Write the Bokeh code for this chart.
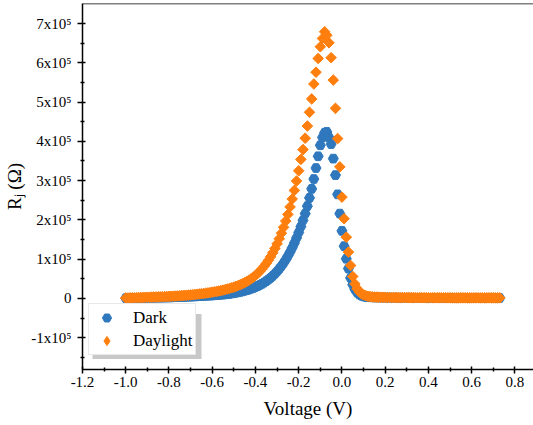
import math
from bokeh.plotting import figure
from bokeh.models import (Range1d, FixedTicker, NumeralTickFormatter, Legend, LegendItem,
                          BoxAnnotation, Span, ColumnDataSource)
from bokeh.embed import file_html
from bokeh.resources import INLINE

# ---------------- data ----------------
voltage = [
    -1.00, -0.99, -0.98, -0.97, -0.96, -0.95, -0.94, -0.93, -0.92, -0.91,
    -0.90, -0.89, -0.88, -0.87, -0.86, -0.85, -0.84, -0.83, -0.82, -0.81,
    -0.80, -0.79, -0.78, -0.77, -0.76, -0.75, -0.74, -0.73, -0.72, -0.71,
    -0.70, -0.69, -0.68, -0.67, -0.66, -0.65, -0.64, -0.63, -0.62, -0.61,
    -0.60, -0.59, -0.58, -0.57, -0.56, -0.55, -0.54, -0.53, -0.52, -0.51,
    -0.50, -0.49, -0.48, -0.47, -0.46, -0.45, -0.44, -0.43, -0.42, -0.41,
    -0.40, -0.39, -0.38, -0.37, -0.36, -0.35, -0.34, -0.33, -0.32, -0.31,
    -0.30, -0.29, -0.28, -0.27, -0.26, -0.25, -0.24, -0.23, -0.22, -0.21,
    -0.20, -0.19, -0.18, -0.17, -0.16, -0.15, -0.14, -0.13, -0.12, -0.11,
    -0.10, -0.09, -0.08, -0.07, -0.06, -0.05, -0.04, -0.03, -0.02, -0.01,
    0.00, 0.01, 0.02, 0.03, 0.04, 0.05, 0.06, 0.07, 0.08, 0.09,
    0.10, 0.11, 0.12, 0.13, 0.14, 0.15, 0.16, 0.17, 0.18, 0.19,
    0.20, 0.21, 0.22, 0.23, 0.24, 0.25, 0.26, 0.27, 0.28, 0.29,
    0.30, 0.31, 0.32, 0.33, 0.34, 0.35, 0.36, 0.37, 0.38, 0.39,
    0.40, 0.41, 0.42, 0.43, 0.44, 0.45, 0.46, 0.47, 0.48, 0.49,
    0.50, 0.51, 0.52, 0.53, 0.54, 0.55, 0.56, 0.57, 0.58, 0.59,
    0.60, 0.61, 0.62, 0.63, 0.64, 0.65, 0.66, 0.67, 0.68, 0.69,
    0.70, 0.71, 0.72, 0.73,
]

# R_j in units of 1e5 Ohm
dark_1e5 = [
    0.006, 0.007, 0.008, 0.009, 0.010, 0.011, 0.012, 0.013, 0.014, 0.015,
    0.016, 0.017, 0.018, 0.019, 0.020, 0.021, 0.022, 0.023, 0.024, 0.025,
    0.026, 0.028, 0.030, 0.032, 0.034, 0.036, 0.038, 0.040, 0.042, 0.044,
    0.046, 0.049, 0.052, 0.055, 0.058, 0.061, 0.064, 0.067, 0.070, 0.073,
    0.076, 0.080, 0.084, 0.088, 0.093, 0.098, 0.104, 0.110, 0.117, 0.125,
    0.135, 0.145, 0.156, 0.168, 0.181, 0.195, 0.210, 0.227, 0.246, 0.267,
    0.290, 0.315, 0.342, 0.372, 0.405, 0.441, 0.481, 0.525, 0.574, 0.628,
    0.687, 0.752, 0.823, 0.900, 0.985, 1.080, 1.180, 1.290, 1.410, 1.540,
    1.680, 1.830, 1.990, 2.160, 2.350, 2.560, 2.790, 3.040, 3.320, 3.620,
    3.900, 4.100, 4.220, 4.240, 4.100, 3.930, 3.560, 3.140, 2.650, 2.160,
    1.720, 1.330, 1.010, 0.760, 0.520, 0.350, 0.230, 0.150, 0.100, 0.070,
    0.050, 0.040, 0.035, 0.030, 0.028, 0.026, 0.025, 0.024, 0.023, 0.022,
    0.021, 0.021, 0.020, 0.020, 0.019, 0.019, 0.018, 0.018, 0.018, 0.017,
    0.017, 0.017, 0.016, 0.016, 0.016, 0.016, 0.015, 0.015, 0.015, 0.015,
    0.015, 0.014, 0.014, 0.014, 0.014, 0.014, 0.014, 0.013, 0.013, 0.013,
    0.013, 0.013, 0.013, 0.013, 0.012, 0.012, 0.012, 0.012, 0.012, 0.012,
    0.012, 0.012, 0.012, 0.011, 0.011, 0.011, 0.011, 0.011, 0.011, 0.011,
    0.011, 0.011, 0.011, 0.011,
]

daylight_1e5 = [
    0.010, 0.011, 0.013, 0.015, 0.017, 0.019, 0.021, 0.023, 0.025, 0.027,
    0.029, 0.031, 0.033, 0.035, 0.037, 0.039, 0.041, 0.043, 0.046, 0.048,
    0.051, 0.054, 0.057, 0.060, 0.063, 0.067, 0.071, 0.075, 0.079, 0.084,
    0.089, 0.094, 0.100, 0.106, 0.112, 0.119, 0.126, 0.133, 0.141, 0.149,
    0.158, 0.168, 0.178, 0.189, 0.200, 0.212, 0.225, 0.239, 0.254, 0.270,
    0.287, 0.306, 0.327, 0.350, 0.375, 0.402, 0.432, 0.465, 0.500, 0.540,
    0.585, 0.635, 0.690, 0.750, 0.820, 0.890, 0.970, 1.060, 1.160, 1.270,
    1.390, 1.520, 1.660, 1.810, 1.970, 2.140, 2.330, 2.530, 2.750, 2.990,
    3.250, 3.540, 3.790, 4.080, 4.390, 4.740, 5.080, 5.460, 5.760, 6.110,
    6.410, 6.620, 6.790, 6.700, 6.510, 6.130, 5.560, 4.840, 4.070, 3.350,
    2.580, 2.030, 1.560, 1.180, 0.840, 0.560, 0.370, 0.250, 0.170, 0.120,
    0.090, 0.070, 0.055, 0.045, 0.040, 0.035, 0.032, 0.030, 0.028, 0.027,
    0.026, 0.025, 0.024, 0.023, 0.022, 0.022, 0.021, 0.021, 0.020, 0.020,
    0.020, 0.019, 0.019, 0.019, 0.018, 0.018, 0.018, 0.018, 0.017, 0.017,
    0.017, 0.017, 0.017, 0.016, 0.016, 0.016, 0.016, 0.016, 0.016, 0.015,
    0.015, 0.015, 0.015, 0.015, 0.015, 0.015, 0.015, 0.015, 0.015, 0.015,
    0.015, 0.015, 0.015, 0.015, 0.015, 0.015, 0.015, 0.015, 0.015, 0.015,
    0.015, 0.015, 0.015, 0.015,
]

series_labels = ["Dark", "Daylight"]
x_ticks = [-1.2, -1.0, -0.8, -0.6, -0.4, -0.2, 0.0, 0.2, 0.4, 0.6, 0.8]
x_minor_ticks = [-1.1, -0.9, -0.7, -0.5, -0.3, -0.1, 0.1, 0.3, 0.5, 0.7]
y_ticks = [-100000, 0, 100000, 200000, 300000, 400000, 500000, 600000, 700000]
y_minor_ticks = [-150000, -50000, 50000, 150000, 250000, 350000, 450000,
                 550000, 650000]
y_tick_labels = ["-1x10\u2075", "0", "1x10\u2075", "2x10\u2075", "3x10\u2075",
                 "4x10\u2075", "5x10\u2075", "6x10\u2075", "7x10\u2075"]
x_label = "Voltage (V)"
y_label = "R\u2c7c (\u03a9)"

UNIT = 1e5
source = ColumnDataSource(dict(
    v=voltage,
    dark=[d * UNIT for d in dark_1e5],
    day=[d * UNIT for d in daylight_1e5],
))

BLUE = "#2F78BD"
ORANGE = "#FF7F0E"

# ---------------- figure ----------------
FONT = "Liberation Serif"
Y_TOP = 7.51e5
p = figure(width=533, height=425, output_backend="svg", toolbar_location=None,
           x_range=Range1d(-1.2, 0.886), y_range=Range1d(-1.81e5, Y_TOP),
           min_border_left=82, min_border_right=0, min_border_top=3,
           min_border_bottom=56, background_fill_color="white",
           border_fill_color="white", outline_line_color=None,
           styles={"position": "absolute", "left": "0px", "top": "0px"})
p.xgrid.visible = False
p.ygrid.visible = False

for ax in (p.xaxis[0], p.yaxis[0]):
    ax.axis_line_color = "black"
    ax.axis_line_width = 1.5
    ax.major_tick_line_color = "black"
    ax.major_tick_line_width = 1.5
    ax.minor_tick_line_color = "black"
    ax.minor_tick_line_width = 1.5
    ax.major_tick_in = 3
    ax.major_tick_out = 4
    ax.minor_tick_in = 2
    ax.minor_tick_out = 2
    ax.major_label_text_font = FONT
    ax.major_label_text_font_size = "15px"
    ax.major_label_text_color = "black"
    ax.axis_label_text_font = FONT
    ax.axis_label_text_font_size = "19px"
    ax.axis_label_text_font_style = "normal"
    ax.axis_label_text_color = "black"

p.xaxis[0].ticker = FixedTicker(ticks=x_ticks, minor_ticks=x_minor_ticks)
p.xaxis[0].formatter = NumeralTickFormatter(format="0.0")
p.xaxis[0].major_label_standoff = 3
p.xaxis[0].axis_label = x_label
p.xaxis[0].axis_label_standoff = 8

p.yaxis[0].ticker = FixedTicker(ticks=y_ticks, minor_ticks=y_minor_ticks)
p.yaxis[0].major_label_overrides = dict(zip(y_ticks, y_tick_labels))
p.yaxis[0].major_tick_out = 5
p.yaxis[0].major_label_standoff = 6
p.yaxis[0].axis_label = y_label
p.yaxis[0].axis_label_standoff = 3

# top frame line
p.add_layout(Span(location=Y_TOP, dimension="width", line_color="black",
                  line_width=1.5))

r_dark = p.scatter("v", "dark", source=source, marker="hex", size=10,
                   fill_color=BLUE, line_color=BLUE)
r_day = p.scatter("v", "day", source=source, marker="square", angle=math.pi / 4,
                  size=7.5, fill_color=ORANGE, line_color=ORANGE)

# legend key proxy for Daylight (a NaN point is never drawn in the plot;
# legend keys are drawn unrotated, so a diamond marker is used for the key)
key_source = ColumnDataSource(dict(v=[float("nan")], day=[float("nan")]))
r_day_key = p.scatter("v", "day", source=key_source, marker="diamond", size=10,
                      fill_color=ORANGE, line_color=ORANGE)

# legend shadow
p.add_layout(BoxAnnotation(left=-1.1537, right=-0.6496, top=-39960, bottom=-154490,
                           fill_color="#c8c8c8", fill_alpha=1.0, line_color=None))

legend = Legend(items=[LegendItem(label=series_labels[0], renderers=[r_dark]),
                       LegendItem(label=series_labels[1], renderers=[r_day_key])],
                location=(6, 14), margin=0, padding=2, spacing=-2,
                glyph_width=31, glyph_height=23, label_standoff=11,
                label_text_font=FONT, label_text_font_size="17px",
                label_text_color="black", border_line_color="#d4d4d4",
                border_line_width=1, background_fill_color="white",
                background_fill_alpha=1.0)
p.add_layout(legend, "center")

open("out.html", "w").write(file_html(p, INLINE))
